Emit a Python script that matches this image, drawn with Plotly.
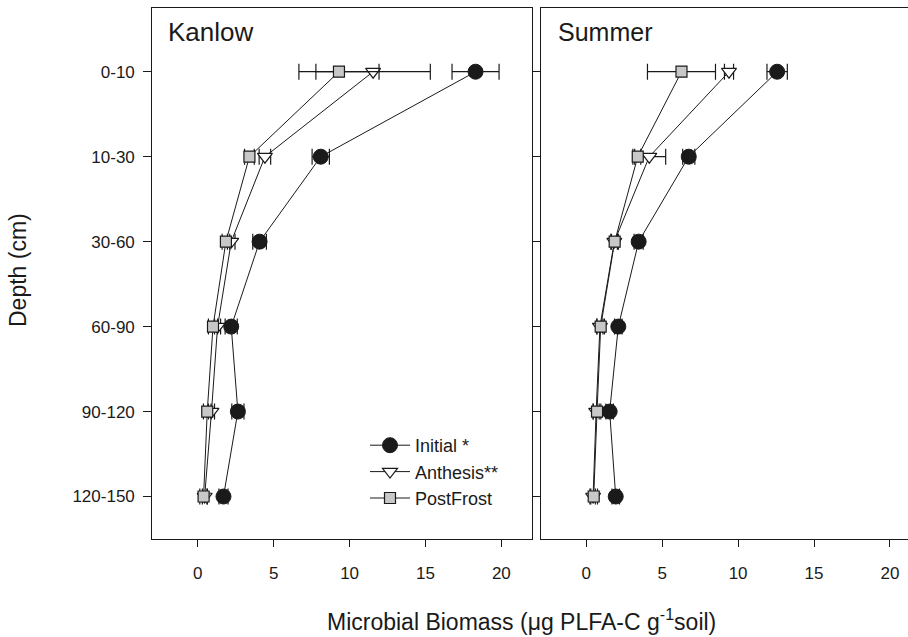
import plotly.graph_objects as go

depths = ["0-10", "10-30", "30-60", "60-90", "90-120", "120-150"]
depth_idx = [0, 1, 2, 3, 4, 5]
x_ticks = [0, 5, 10, 15, 20]

# Kanlow
kan_initial = [18.3, 8.1, 4.07, 2.2, 2.64, 1.69]
kan_initial_err = [1.55, 0.57, 0.45, 0.4, 0.4, 0.3]
kan_anthesis = [11.55, 4.42, 2.2, 1.3, 0.9, 0.45]
kan_anthesis_err = [3.77, 0.38, 0.25, 0.2, 0.2, 0.15]
kan_postfrost = [9.3, 3.4, 1.85, 1.0, 0.62, 0.38]
kan_postfrost_err = [2.64, 0.32, 0.25, 0.3, 0.25, 0.25]

# Summer
sum_initial = [12.57, 6.75, 3.45, 2.11, 1.54, 1.94]
sum_initial_err = [0.67, 0.4, 0.3, 0.25, 0.25, 0.25]
sum_anthesis = [9.4, 4.15, 1.85, 0.9, 0.65, 0.45]
sum_anthesis_err = [0.3, 1.08, 0.2, 0.2, 0.2, 0.15]
sum_postfrost = [6.27, 3.39, 1.87, 0.95, 0.71, 0.49]
sum_postfrost_err = [2.24, 0.2, 0.25, 0.25, 0.25, 0.25]

FONT = "Liberation Sans, Arial, sans-serif"
INK = "#1a1a1a"

styles = {
    "Initial *": dict(symbol="circle", size=15, color=INK, line=dict(color=INK, width=1)),
    "Anthesis**": dict(symbol="triangle-down", size=13, color="white", line=dict(color=INK, width=1.2)),
    "PostFrost": dict(symbol="square", size=11, color="#c8c8c8", line=dict(color=INK, width=1.2)),
}

fig = go.Figure()

def add(name, xs, errs, xa, ya, show):
    fig.add_trace(go.Scatter(
        x=xs, y=depth_idx, mode="lines+markers", name=name,
        xaxis=xa, yaxis=ya, showlegend=show,
        line=dict(color=INK, width=1),
        marker=styles[name],
        error_x=dict(type="data", array=errs, visible=True, color=INK, thickness=1.2, width=8),
    ))

add("Initial *", kan_initial, kan_initial_err, "x", "y", True)
add("Anthesis**", kan_anthesis, kan_anthesis_err, "x", "y", True)
add("PostFrost", kan_postfrost, kan_postfrost_err, "x", "y", True)
add("Initial *", sum_initial, sum_initial_err, "x2", "y2", False)
add("Anthesis**", sum_anthesis, sum_anthesis_err, "x2", "y2", False)
add("PostFrost", sum_postfrost, sum_postfrost_err, "x2", "y2", False)

W, H = 908, 637
ytop = 1 - 8 / H
ybot = 1 - 539 / H

xcommon = dict(tickvals=x_ticks, ticks="outside", ticklen=7, tickwidth=1, tickcolor=INK,
               showline=True, linecolor=INK, linewidth=1.2, mirror=True, showgrid=False,
               zeroline=False, ticklabelstandoff=11,
               tickfont=dict(family=FONT, size=17, color=INK))
ycommon = dict(tickvals=depth_idx, ticktext=depths, range=[5.5, -0.75], ticks="outside",
               ticklen=8, tickwidth=1, tickcolor=INK, showline=True, linecolor=INK,
               linewidth=1.2, showgrid=False, zeroline=False, ticklabelstandoff=5,
               tickfont=dict(family=FONT, size=17, color=INK))

fig.update_layout(
    width=W, height=H,
    margin=dict(l=0, r=0, t=0, b=0),
    paper_bgcolor="white", plot_bgcolor="white",
    font=dict(family=FONT, color=INK),
    xaxis=dict(domain=[152.3 / W, 531.7 / W], range=[-3, 22], anchor="y", **xcommon),
    yaxis=dict(domain=[ybot, ytop], anchor="x", mirror=True, showticklabels=True, **ycommon),
    xaxis2=dict(domain=[540.7 / W, 1.0], range=[-3, (908 - 586.6) / 15.17], anchor="y2", **xcommon),
    yaxis2=dict(domain=[ybot, ytop], anchor="x2", mirror=False, showticklabels=False, **ycommon),
    legend=dict(x=365 / W, y=1 - 427 / H, xanchor="left", yanchor="top",
                bgcolor="rgba(0,0,0,0)", font=dict(family=FONT, size=18, color=INK),
                tracegroupgap=0, itemwidth=40),
    showlegend=True,
    annotations=[
        dict(text="Kanlow", x=166 / W, y=1 - 32 / H, xref="paper", yref="paper",
             xanchor="left", yanchor="middle", showarrow=False,
             font=dict(family=FONT, size=26, color=INK)),
        dict(text="Summer", x=556 / W, y=1 - 32 / H, xref="paper", yref="paper",
             xanchor="left", yanchor="middle", showarrow=False,
             font=dict(family=FONT, size=25, color=INK)),
        dict(text="Depth (cm)", x=18 / W, y=1 - 270 / H, xref="paper", yref="paper",
             xanchor="center", yanchor="middle", showarrow=False, textangle=-90,
             font=dict(family=FONT, size=23, color=INK)),
        dict(text="Microbial Biomass (μg PLFA-C g<sup>-1</sup>soil)", x=521 / W, y=1 - 620 / H,
             xref="paper", yref="paper", xanchor="center", yanchor="middle", showarrow=False,
             font=dict(family=FONT, size=23, color=INK)),
    ],
)

fig.write_html(
    "out.html",
    config={"displayModeBar": False},
    post_script="document.body.style.margin='0px';document.body.style.overflow='hidden';",
)
